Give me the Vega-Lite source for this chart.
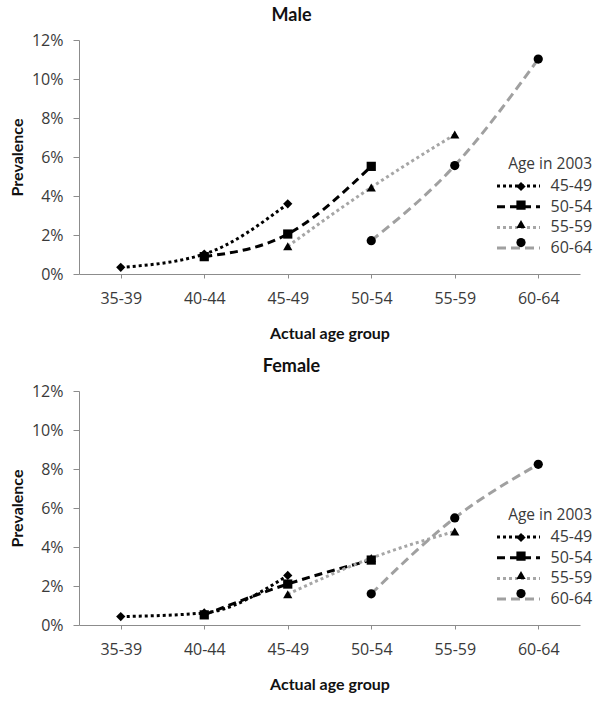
{
  "$schema": "https://vega.github.io/schema/vega-lite/v6.json",
  "padding": {"left": 9, "top": 7, "right": 5, "bottom": 5},
  "spacing": 17,
  "background": "white",
  "config": {
    "font": "Open Sans",
    "view": {"stroke": null},
    "axis": {
      "labelFont": "Open Sans", "labelFontSize": 16, "labelColor": "#3a3a3a",
      "titleFont": "Lato", "titleFontSize": 16, "titleFontWeight": "bold", "titleColor": "#111111",
      "domainColor": "#8c8c8c", "tickColor": "#8c8c8c", "grid": false
    },
    "legend": {"labelFont": "Open Sans", "titleFont": "Open Sans"},
    "title": {"font": "Lato", "fontSize": 18, "fontWeight": "bold", "color": "#111111"}
  },
  "datasets": {
    "d": [
      {"sex": "Male", "cohort": "45-49", "age": "35-39", "value": 0.0034},
      {"sex": "Male", "cohort": "45-49", "age": "40-44", "value": 0.0102},
      {"sex": "Male", "cohort": "45-49", "age": "45-49", "value": 0.0360},
      {"sex": "Male", "cohort": "50-54", "age": "40-44", "value": 0.0089},
      {"sex": "Male", "cohort": "50-54", "age": "45-49", "value": 0.0205},
      {"sex": "Male", "cohort": "50-54", "age": "50-54", "value": 0.0552},
      {"sex": "Male", "cohort": "55-59", "age": "45-49", "value": 0.0142},
      {"sex": "Male", "cohort": "55-59", "age": "50-54", "value": 0.0444},
      {"sex": "Male", "cohort": "55-59", "age": "55-59", "value": 0.0715},
      {"sex": "Male", "cohort": "60-64", "age": "50-54", "value": 0.0171},
      {"sex": "Male", "cohort": "60-64", "age": "55-59", "value": 0.0556},
      {"sex": "Male", "cohort": "60-64", "age": "60-64", "value": 0.1102},
      {"sex": "Female", "cohort": "45-49", "age": "35-39", "value": 0.0043},
      {"sex": "Female", "cohort": "45-49", "age": "40-44", "value": 0.0062},
      {"sex": "Female", "cohort": "45-49", "age": "45-49", "value": 0.0254},
      {"sex": "Female", "cohort": "50-54", "age": "40-44", "value": 0.0052},
      {"sex": "Female", "cohort": "50-54", "age": "45-49", "value": 0.0210},
      {"sex": "Female", "cohort": "50-54", "age": "50-54", "value": 0.0333},
      {"sex": "Female", "cohort": "55-59", "age": "45-49", "value": 0.0158},
      {"sex": "Female", "cohort": "55-59", "age": "50-54", "value": 0.0343},
      {"sex": "Female", "cohort": "55-59", "age": "55-59", "value": 0.0480},
      {"sex": "Female", "cohort": "60-64", "age": "50-54", "value": 0.0160},
      {"sex": "Female", "cohort": "60-64", "age": "55-59", "value": 0.0549},
      {"sex": "Female", "cohort": "60-64", "age": "60-64", "value": 0.0824}
    ]
  },
  "vconcat": [
    {
      "width": 501, "height": 234,
      "title": {"text": "Male", "dx": -38, "offset": 7},
      "data": {"name": "d"},
      "transform": [{"filter": "datum.sex === 'Male'"}],
      "encoding": {
        "x": {"field": "age", "type": "ordinal", "scale": {"type": "point", "padding": 0.5, "domain": ["35-39", "40-44", "45-49", "50-54", "55-59", "60-64"]},
              "axis": {"title": "Actual age group", "labelAngle": 0, "tickSize": 4, "labelPadding": 12, "titlePadding": 19}},
        "y": {"field": "value", "type": "quantitative", "scale": {"domain": [0, 0.12], "nice": false},
              "axis": {"title": "Prevalence", "format": ".0%", "values": [0, 0.02, 0.04, 0.06, 0.08, 0.1, 0.12], "tickSize": 6, "labelPadding": 10, "titlePadding": 6}}
      },
      "layer": [
        {
          "mark": {"type": "line", "strokeWidth": 3, "interpolate": "monotone"},
          "encoding": {
            "stroke": {"field": "cohort", "type": "nominal",
              "scale": {"domain": ["45-49", "50-54", "55-59", "60-64"], "range": ["#000000", "#000000", "#a6a6a6", "#a0a0a0"]},
              "legend": {"title": "Age in 2003", "orient": "none", "legendX": 417, "legendY": 117, "titleAnchor": "end", "titleFontWeight": "normal", "titleFontSize": 15.5, "titleColor": "#3a3a3a", "titlePadding": 6, "labelFontSize": 16, "labelColor": "#3a3a3a", "symbolType": "M-4.3,0H4.3", "symbolSize": 100, "symbolStrokeWidth": 3, "symbolOffset": 14.5, "labelOffset": 24, "clipHeight": 15, "rowPadding": 3.7}},
            "strokeDash": {"field": "cohort", "type": "nominal",
              "scale": {"domain": ["45-49", "50-54", "55-59", "60-64"], "range": [[3, 3], [8, 5], [3, 3], [9, 5]]},
              "legend": {"title": "Age in 2003", "orient": "none", "legendX": 417, "legendY": 117, "titleAnchor": "end", "titleFontWeight": "normal", "titleFontSize": 15.5, "titleColor": "#3a3a3a", "titlePadding": 6, "labelFontSize": 16, "labelColor": "#3a3a3a", "symbolType": "M-4.3,0H4.3", "symbolSize": 100, "symbolStrokeWidth": 3, "symbolOffset": 14.5, "labelOffset": 24, "clipHeight": 15, "rowPadding": 3.7}}
          }
        },
        {
          "mark": {"type": "point", "filled": true, "color": "#000000", "opacity": 1, "size": 85},
          "encoding": {
            "shape": {"field": "cohort", "type": "nominal",
              "scale": {"range": ["diamond", "square", "triangle-up", "circle"]},
              "legend": {"title": null, "orient": "none", "legendX": 427, "legendY": 139, "labelExpr": "''", "symbolOffset": 10, "clipHeight": 15, "rowPadding": 3.7, "symbolSize": 85, "symbolFillColor": "#000000", "symbolStrokeWidth": 0}}
          }
        }
      ]
    },
    {
      "width": 501, "height": 234,
      "title": {"text": "Female", "dx": -38, "offset": 7},
      "data": {"name": "d"},
      "transform": [{"filter": "datum.sex === 'Female'"}],
      "encoding": {
        "x": {"field": "age", "type": "ordinal", "scale": {"type": "point", "padding": 0.5, "domain": ["35-39", "40-44", "45-49", "50-54", "55-59", "60-64"]},
              "axis": {"title": "Actual age group", "labelAngle": 0, "tickSize": 4, "labelPadding": 12, "titlePadding": 19}},
        "y": {"field": "value", "type": "quantitative", "scale": {"domain": [0, 0.12], "nice": false},
              "axis": {"title": "Prevalence", "format": ".0%", "values": [0, 0.02, 0.04, 0.06, 0.08, 0.1, 0.12], "tickSize": 6, "labelPadding": 10, "titlePadding": 6}}
      },
      "layer": [
        {
          "mark": {"type": "line", "strokeWidth": 3, "interpolate": "monotone"},
          "encoding": {
            "stroke": {"field": "cohort", "type": "nominal",
              "scale": {"domain": ["45-49", "50-54", "55-59", "60-64"], "range": ["#000000", "#000000", "#a6a6a6", "#a0a0a0"]},
              "legend": {"title": "Age in 2003", "orient": "none", "legendX": 417, "legendY": 117, "titleAnchor": "end", "titleFontWeight": "normal", "titleFontSize": 15.5, "titleColor": "#3a3a3a", "titlePadding": 6, "labelFontSize": 16, "labelColor": "#3a3a3a", "symbolType": "M-4.3,0H4.3", "symbolSize": 100, "symbolStrokeWidth": 3, "symbolOffset": 14.5, "labelOffset": 24, "clipHeight": 15, "rowPadding": 3.7}},
            "strokeDash": {"field": "cohort", "type": "nominal",
              "scale": {"domain": ["45-49", "50-54", "55-59", "60-64"], "range": [[3, 3], [8, 5], [3, 3], [9, 5]]},
              "legend": {"title": "Age in 2003", "orient": "none", "legendX": 417, "legendY": 117, "titleAnchor": "end", "titleFontWeight": "normal", "titleFontSize": 15.5, "titleColor": "#3a3a3a", "titlePadding": 6, "labelFontSize": 16, "labelColor": "#3a3a3a", "symbolType": "M-4.3,0H4.3", "symbolSize": 100, "symbolStrokeWidth": 3, "symbolOffset": 14.5, "labelOffset": 24, "clipHeight": 15, "rowPadding": 3.7}}
          }
        },
        {
          "mark": {"type": "point", "filled": true, "color": "#000000", "opacity": 1, "size": 85},
          "encoding": {
            "shape": {"field": "cohort", "type": "nominal",
              "scale": {"range": ["diamond", "square", "triangle-up", "circle"]},
              "legend": {"title": null, "orient": "none", "legendX": 427, "legendY": 139, "labelExpr": "''", "symbolOffset": 10, "clipHeight": 15, "rowPadding": 3.7, "symbolSize": 85, "symbolFillColor": "#000000", "symbolStrokeWidth": 0}}
          }
        }
      ]
    }
  ],
  "resolve": {
    "scale": {"stroke": "independent", "strokeDash": "independent", "shape": "independent"},
    "legend": {"stroke": "independent", "strokeDash": "independent", "shape": "independent"}
  }
}
